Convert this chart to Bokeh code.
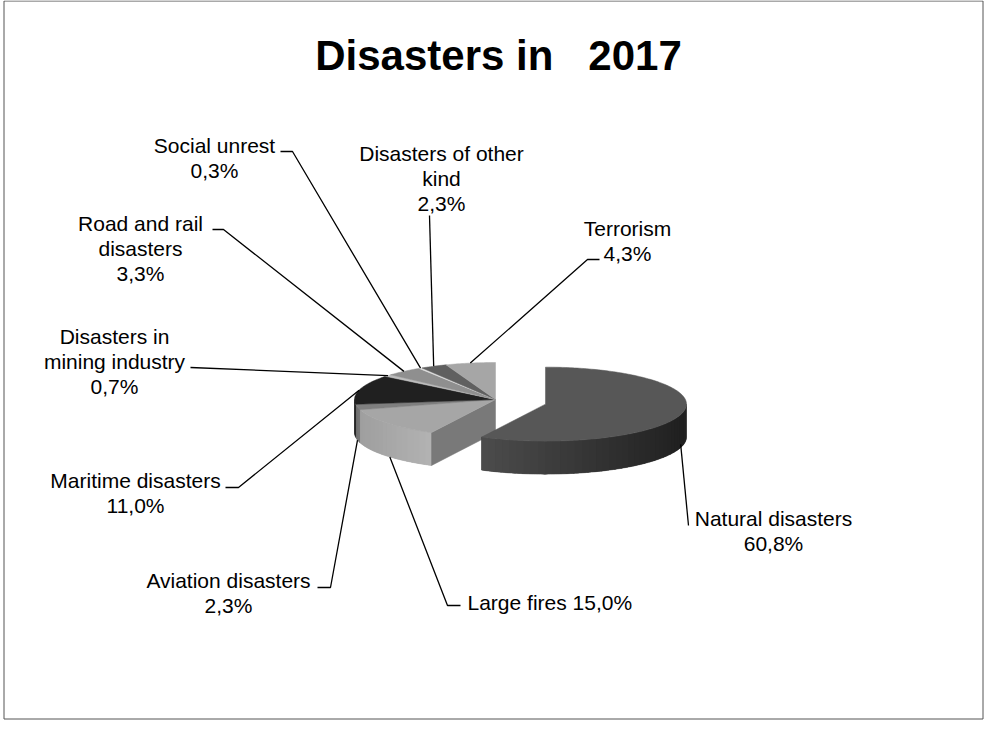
import numpy as np
from bokeh.plotting import figure
from bokeh.models import Range1d
from bokeh.embed import file_html
from bokeh.resources import INLINE
from bokeh.core.properties import value

# ---------------- data ----------------
title_text = "Disasters in\u00a0\u00a0\u00a02017"
categories = ["Natural disasters", "Large fires", "Aviation disasters", "Maritime disasters",
              "Disasters in mining industry", "Road and rail disasters", "Social unrest",
              "Disasters of other kind", "Terrorism"]
shares = [60.8, 15.0, 2.3, 11.0, 0.7, 3.3, 0.3, 2.3, 4.3]
label_lines = [["Natural disasters", "{v}"], ["Large fires {v}"], ["Aviation disasters", "{v}"],
               ["Maritime disasters", "{v}"], ["Disasters in", "mining industry", "{v}"],
               ["Road and rail", "disasters", "{v}"], ["Social unrest", "{v}"],
               ["Disasters of other", "kind", "{v}"], ["Terrorism", "{v}"]]
exploded = [True, False, False, False, False, False, False, False, False]

# ---------------- styles / layout ----------------
top_colors = ["#575757", "#a6a6a6", "#7f7f7f", "#202020", "#bdbdbd", "#8f8f8f", "#dcdcdc", "#606060", "#a6a6a6"]
side_left = ["#4c4c4c", "#9f9f9f", "#6c6c6c", "#1c1c1c", "#a8a8a8", "#7c7c7c", "#c8c8c8", "#505050", "#959595"]
side_right = ["#1f1f1f", "#b3b3b3", "#7a7a7a", "#1c1c1c", "#a8a8a8", "#7c7c7c", "#c8c8c8", "#505050", "#959595"]
CX, CY, RX, RY, DEPTH = 495.0, 399.0, 141.0, 37.0, 33.0
K = 19.0          # angular warp of the 3-D view (degrees)
EXPLODE = 0.376
FONT = "Liberation Sans"
FS = "21px"
LINE_H = 25
# label anchor: (x, first-line y, align)
label_pos = [(773, 518, "center"), (467, 602, "left"), (228, 580, "center"), (135, 480, "center"),
             (114, 336, "center"), (140, 223, "center"), (214, 145, "center"), (441, 153, "center"),
             (627, 228, "center")]
# leader start (elbow) points
leader_start = [[(688, 525)], [(460, 605), (447, 605)], [(317, 587), (330, 587)], [(225, 487), (238, 487)],
                [(190, 367)], [(212, 229), (223, 229)], [(280, 151), (292, 151)], [(429, 215)],
                [(599, 259), (587, 259)]]
# fraction of the slice depth at which each leader meets the pie
leader_depth = [0.9, 1.0, 1.0, 1.0, 1.0, 1.0, 1.0, 1.0, 1.0]
# leader angle position within slice (0..1)
leader_pos = [0.40, 0.5, 0.5, 0.5, 0.5, 0.5, 0.5, 0.5, 0.5]


def scr(theta):
    return theta + K * np.sin(np.radians(theta))


def pts(th_scr, cx, cy, dz=0.0):
    r = np.radians(th_scr)
    return cx + RX * np.sin(r), cy - RY * np.cos(r) + dz


def hex2rgb(h):
    return np.array([int(h[i:i + 2], 16) for i in (1, 3, 5)], dtype=float)


def lerp(c1, c2, t):
    c = hex2rgb(c1) * (1 - t) + hex2rgb(c2) * t
    return "#%02x%02x%02x" % tuple(int(round(v)) for v in c)


def darker(h, f=0.73):
    c = hex2rgb(h) * f
    return "#%02x%02x%02x" % tuple(int(round(v)) for v in c)


def fmt(v):
    return ("%.1f" % v).replace(".", ",") + "%"


cum = np.concatenate([[0.0], np.cumsum(shares)]) / sum(shares) * 360.0
centers = []
for i in range(len(shares)):
    if exploded[i]:
        mid = np.radians((cum[i] + cum[i + 1]) / 2)
        centers.append((CX + EXPLODE * RX * np.sin(mid), CY - EXPLODE * RY * np.cos(mid)))
    else:
        centers.append((CX, CY))

p = figure(width=986, height=730, x_range=Range1d(0, 986), y_range=Range1d(730, 0),
           output_backend="svg", toolbar_location=None, min_border=0)
p.axis.visible = False
p.grid.visible = False
p.outline_line_color = None
p.background_fill_color = "white"

# chart border
p.quad(left=[3.5], right=[982.5], top=[0.5], bottom=[718.5], fill_color=None,
       line_color="#555555", line_width=1)


def draw_group(idx):
    base_xs, base_ys, base_c = [], [], []
    side_xs, side_ys, side_c = [], [], []
    face_xs, face_ys, face_c = [], [], []
    top_xs, top_ys, top_c = [], [], []
    n = len(shares)
    for i in idx:
        cx, cy = centers[i]
        sa, sb = scr(cum[i]), scr(cum[i + 1])
        # side (front half only)
        lo, hi = max(sa, 90.0), min(sb, 270.0)
        if hi > lo:
            t = np.linspace(lo, hi, int(hi - lo) + 2)
            xt, yt = pts(t, cx, cy)
            xb, yb = pts(t[::-1], cx, cy, DEPTH)
            base_xs.append(list(xt) + list(xb))
            base_ys.append(list(yt) + list(yb))
            base_c.append(lerp(side_left[i], side_right[i], 0.5))
            steps = max(2, int((hi - lo) / 3.0) + 1)
            ths = np.linspace(lo, hi, steps + 1)
            xall = pts(ths, cx, cy)[0]
            x0, x1 = xall.min(), xall.max()
            for k in range(steps):
                t = np.linspace(ths[k], min(hi, ths[k + 1] + 0.8), 5)
                xt, yt = pts(t, cx, cy)
                xb, yb = pts(t[::-1], cx, cy, DEPTH)
                frac = ((xt.mean() - x0) / (x1 - x0)) if x1 > x0 else 0.5
                side_xs.append(list(xt) + list(xb))
                side_ys.append(list(yt) + list(yb))
                side_c.append(lerp(side_left[i], side_right[i], frac))
        # cut faces exposed by an explosion
        prev_i, next_i = (i - 1) % n, (i + 1) % n
        for ang, neighbour, normal in ((sa, prev_i, sa - 90.0), (sb, next_i, sb + 90.0)):
            if exploded[i] or exploded[neighbour]:
                if np.cos(np.radians(normal - 180.0)) > 1e-6:
                    ex, ey = pts(ang, cx, cy)
                    face_xs.append([cx, ex, ex, cx])
                    face_ys.append([cy, ey, ey + DEPTH, cy + DEPTH])
                    face_c.append(darker(top_colors[i]))
        # top
        t = np.linspace(sa, sb, max(2, int(sb - sa) + 2))
        xt, yt = pts(t, cx, cy)
        top_xs.append([cx] + list(xt))
        top_ys.append([cy] + list(yt))
        top_c.append(top_colors[i])
    if base_xs:
        p.patches(base_xs, base_ys, fill_color=base_c, line_color=base_c, line_width=0.5)
        p.patches(side_xs, side_ys, fill_color=side_c, line_color=None)
    if face_xs:
        p.patches(face_xs, face_ys, fill_color=face_c, line_color=face_c, line_width=0.5)
    p.patches(top_xs, top_ys, fill_color=top_c, line_color=top_c, line_width=0.5)


draw_group([i for i in range(len(shares)) if not exploded[i]])
draw_group([i for i in range(len(shares)) if exploded[i]])

# leader lines
lx, ly = [], []
for i in range(len(shares)):
    cx, cy = centers[i]
    m = scr(cum[i] + leader_pos[i] * (cum[i + 1] - cum[i]))
    ex, ey = pts(m, cx, cy)
    if 90.0 < m < 270.0:
        ey = ey + DEPTH * leader_depth[i]
    path = leader_start[i] + [(ex, ey)]
    lx.append([q[0] for q in path])
    ly.append([q[1] for q in path])
p.multi_line(lx, ly, line_color="black", line_width=1.3)

# labels
for align in ("center", "left"):
    xs, ys, ts = [], [], []
    for i in range(len(shares)):
        x0, y0, al = label_pos[i]
        if al != align:
            continue
        for j, ln in enumerate(label_lines[i]):
            xs.append(x0)
            ys.append(y0 + j * LINE_H)
            ts.append(ln.format(v=fmt(shares[i])))
    if xs:
        p.text(x=xs, y=ys, text=ts, text_align=align, text_baseline="middle",
               text_font=value(FONT), text_font_size=FS, text_color="black")

p.text(x=[498], y=[55], text=[title_text], text_align="center", text_baseline="middle",
       text_font=value(FONT), text_font_size="42px", text_font_style="bold", text_color="black")

open("out.html", "w").write(file_html(p, INLINE))
